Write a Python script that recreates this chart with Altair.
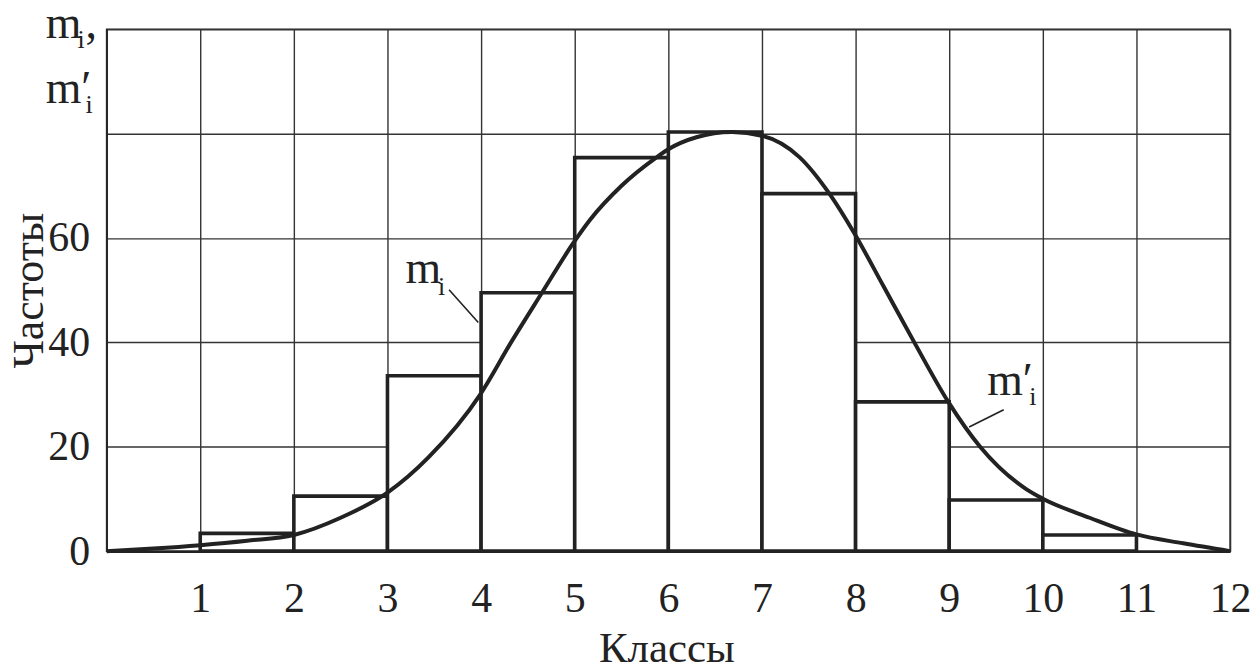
import altair as alt
import pandas as pd

# ---- data ----
bin_start = [1, 2, 3, 4, 5, 6, 7, 8, 9, 10]
bin_end = [2, 3, 4, 5, 6, 7, 8, 9, 10, 11]
freq = [3.4, 10.55, 33.6, 49.5, 75.4, 80.3, 68.5, 28.6, 9.8, 3.1]

curve_x = [0, 0.5, 1, 1.5, 2, 2.5, 3.0, 3.44, 3.99, 4.32, 4.65, 4.98, 5.16, 5.5, 5.87,
           6.0, 6.3, 6.68, 7.0, 7.4, 7.72, 7.98, 8.3, 8.63, 8.99, 9.33, 9.83, 10.0,
           10.5, 11.0, 11.5, 12]
curve_y = [0, 0.5, 1.15, 2.0, 3.1, 6.4, 11.2, 18.0, 30.0, 40.0, 49.5, 58.9, 63.4, 70.0, 75.4,
           77.0, 79.3, 80.3, 79.6, 75.5, 68.5, 61.1, 50.7, 39.9, 28.6, 20.0, 11.8, 10.06,
           6.4, 3.2, 1.5, 0]

x_ticks = list(range(0, 13))
y_ticks = [0, 20, 40, 60, 80, 100]

# annotation texts (data coordinates)
ann_text = ["m", "i", ",", "m\u2032", "i", "m", "i", "m\u2032", "i"]
ann_x = [-0.65, -0.31, -0.225, -0.65, -0.225, 3.193, 3.54, 9.405, 9.855]
ann_y = [98.3, 96.5, 98.3, 85.9, 83.97, 51.3, 49.05, 29.96, 28.05]
ann_size = [46, 26, 46, 46, 26, 46, 26, 46, 26]

lead_x = [3.658, 9.582]
lead_y = [50.1, 27.1]
lead_x2 = [3.97, 9.213]
lead_y2 = [43.8, 23.8]

FONT = "Liberation Serif"
INK = "#222222"

bars_df = pd.DataFrame({"a": bin_start, "b": bin_end, "f": freq})
curve_df = pd.DataFrame({"x": curve_x, "y": curve_y})
ann_df = pd.DataFrame({"t": ann_text, "x": ann_x, "y": ann_y, "s": ann_size})
lead_df = pd.DataFrame({"x": lead_x, "y": lead_y, "x2": lead_x2, "y2": lead_y2})

xscale = alt.Scale(domain=[0, 12], nice=False, zero=False)
yscale = alt.Scale(domain=[0, 100], nice=False)

xaxis = alt.Axis(
    values=x_ticks, format="d", grid=True, gridColor="#333333", gridWidth=1.4, gridOpacity=1,
    ticks=False, domain=True, domainColor=INK, domainWidth=2.5,
    labelFont=FONT, labelFontSize=42, labelColor=INK, labelPadding=28,
    labelExpr="datum.value == 0 ? '' : datum.label", labelFlush=False,
    title="Классы", titleFont=FONT, titleFontSize=43, titleFontWeight="normal",
    titleColor=INK, titleBaseline="alphabetic", titleY=111, titleX=562,
)
yaxis = alt.Axis(
    values=y_ticks, format="d", grid=True, gridColor="#333333", gridWidth=1.4, gridOpacity=1,
    ticks=False, domain=True, domainColor=INK, domainWidth=1.5,
    labelFont=FONT, labelFontSize=42, labelColor=INK, labelPadding=17,
    labelExpr="datum.value > 60 ? '' : datum.label", labelFlush=False,
    title="Частоты", titleFont=FONT, titleFontSize=44, titleFontWeight="normal",
    titleColor=INK, titleBaseline="alphabetic", titleAngle=270, titleX=-64, titleY=262,
)

bars = alt.Chart(bars_df).mark_rect(fill="white", stroke=INK, strokeWidth=3.6).encode(
    x=alt.X("a:Q", scale=xscale, axis=xaxis),
    x2="b:Q",
    y=alt.Y("f:Q", scale=yscale, axis=yaxis),
    y2=alt.datum(0),
)

curve = alt.Chart(curve_df).mark_line(color=INK, strokeWidth=4, interpolate="monotone").encode(
    x=alt.X("x:Q", scale=xscale),
    y=alt.Y("y:Q", scale=yscale),
)

leaders = alt.Chart(lead_df).mark_rule(color=INK, strokeWidth=1.6).encode(
    x=alt.X("x:Q", scale=xscale), y=alt.Y("y:Q", scale=yscale), x2="x2:Q", y2="y2:Q"
)

labels = alt.Chart(ann_df).mark_text(font=FONT, color=INK, align="left",
                                     baseline="alphabetic").encode(
    x=alt.X("x:Q", scale=xscale),
    y=alt.Y("y:Q", scale=yscale),
    text="t:N",
    size=alt.Size("s:Q", scale=None, legend=None),
)

chart = alt.layer(bars, curve, leaders, labels).properties(
    width=1128, height=524,
    autosize=alt.AutoSizeParams(type="none"),
    padding={"left": 99, "top": 20, "right": 22, "bottom": 116},
    background="white",
).configure_view(stroke=INK, strokeWidth=1.5)

chart.save("out.html", embed_options={"renderer": "svg", "actions": False})
